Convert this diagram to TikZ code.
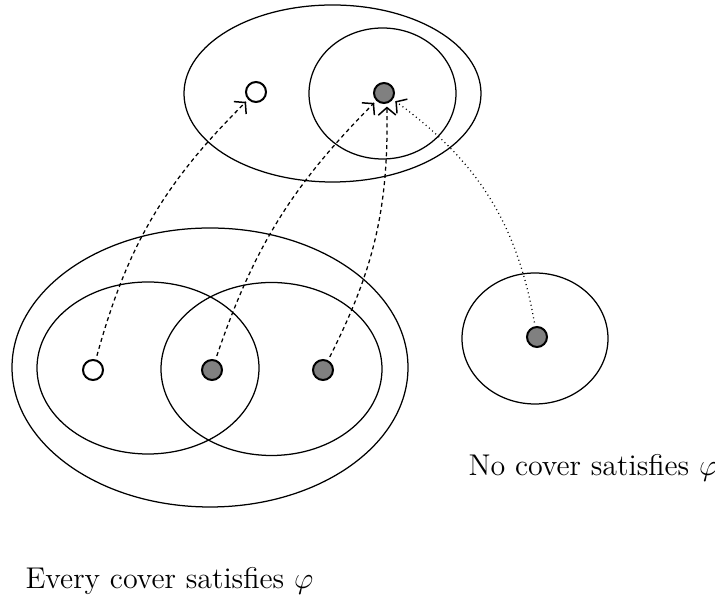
\documentclass[tikz,border=0pt]{standalone}
\usetikzlibrary{arrows.meta,decorations.markings}
\begin{document}
\begin{tikzpicture}[x=0.4pt,y=-0.4pt,
  set/.style={draw,line width=0.5pt},
  wdot/.style={circle,draw,line width=0.8pt,fill=white,minimum size=8pt,inner sep=0pt},
  gdot/.style={circle,draw,line width=0.8pt,fill=gray,minimum size=8pt,inner sep=0pt},
  tip/.style={decoration={markings,mark=at position -1.2pt with {\arrow{Straight Barb[length=3pt,width=7pt,line width=0.6pt]}}},
    postaction={solid,decorate}},
  dlink/.style={tip,dash pattern=on 1.6pt off 1.3pt,line width=0.5pt,shorten >=1.2pt,shorten <=1.5pt},
  olink/.style={tip,dash pattern=on 0.4pt off 1.3pt,line width=0.5pt,shorten >=1.2pt,shorten <=1.5pt},
  lbl/.style={anchor=base west,inner sep=0pt,font=\fontsize{12}{14}\selectfont}]
\useasboundingbox (0,0) rectangle (715,597);
% top sets
\draw[set] (332.5,93.5) ellipse [x radius=148.5,y radius=88.5];
\draw[set] (382.5,93.5) ellipse [x radius=73.5,y radius=65.5];
% bottom sets
\draw[set] (210,367.5) ellipse [x radius=198,y radius=139.5];
\draw[set] (148,368) ellipse [x radius=111,y radius=86];
\draw[set] (271.5,369) ellipse [x radius=110.5,y radius=86.5];
% right set
\draw[set] (535,338.5) ellipse [x radius=73,y radius=65.5];
% points
\node[wdot] (t1) at (256,92) {};
\node[gdot] (t2) at (384,93) {};
\node[wdot] (b1) at (93,370) {};
\node[gdot] (b2) at (212,370) {};
\node[gdot] (b3) at (323,370) {};
\node[gdot] (r1) at (537,337) {};
% links
\draw[dlink] (b1) to[bend left=15] (t1);
\draw[dlink] (b2) to[bend left=13] (t2);
\draw[dlink] (b3) to[bend right=14] (t2.285);
\draw[olink] (r1) to[bend right=22] (t2);
% labels
\node[lbl] (l1) at (468,475.5) {No cover satisfies $\varphi$};
\node[lbl] (l2) at (25,589) {Every cover satisfies $\varphi$};
\end{tikzpicture}
\end{document}
